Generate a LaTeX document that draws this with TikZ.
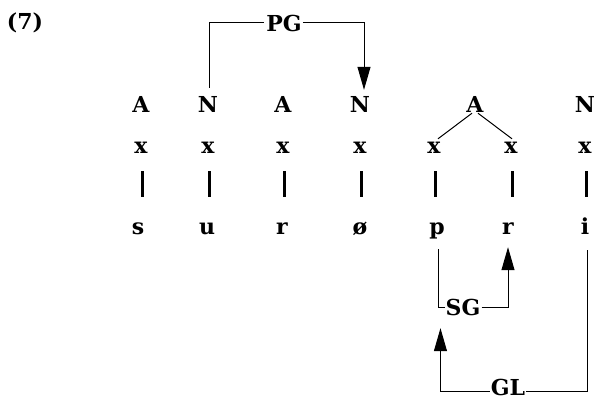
\documentclass[tikz,border=0pt]{standalone}
\usepackage{fontspec}
\setmainfont{DejaVu Serif}
\usetikzlibrary{arrows.meta}
\begin{document}
\begin{tikzpicture}[x=1pt,y=-1pt,
  every node/.style={inner sep=0pt,anchor=base,font=\fontsize{22}{26}\selectfont\bfseries},
  capnode/.style={text height=16pt,text depth=0pt},
  lownode/.style={text height=11pt,text depth=0pt},
  thinline/.style={line width=1pt},
  barline/.style={line width=2.4pt},
  bigarrow/.style={thinline,-{Triangle[length=23pt,width=13pt]}}]
\useasboundingbox (0,0) rectangle (595,399);
% example number
\node[capnode] (num) at (25,29) {(7)};
% top tier: category labels
\node[capnode] (A1) at (141,112) {A};
\node[capnode] (N2) at (208,112) {N};
\node[capnode] (A3) at (283,112) {A};
\node[capnode] (N4) at (360,112) {N};
\node[capnode] (A5) at (475,112) {A};
\node[capnode] (N7) at (585,112) {N};
% skeletal slots
\node[lownode] (x1) at (141,153) {x};
\node[lownode] (x2) at (208,153) {x};
\node[lownode] (x3) at (283,153) {x};
\node[lownode] (x4) at (360,153) {x};
\node[lownode] (x5) at (434,153) {x};
\node[lownode] (x6) at (511,153) {x};
\node[lownode] (x7) at (585,153) {x};
% segments
\node[lownode] (s1) at (138,234) {s};
\node[lownode] (s2) at (207,234) {u};
\node[lownode] (s3) at (282,234) {r};
\node[lownode] (s4) at (360,234) {ø};
\node[lownode] (s5) at (437,234) {p};
\node[lownode] (s6) at (508,234) {r};
\node[lownode] (s7) at (585,234) {i};
% association lines slot -- segment
\foreach \i in {1,...,7}
  \draw[barline] ([xshift=1.5pt,yshift=-18pt]x\i.south) -- ([xshift=1.5pt,yshift=26pt]x\i.south |- s\i.north);
% branching A
\draw[thinline] ([xshift=-3pt,yshift=-1pt]A5.south) -- ([xshift=4pt,yshift=3pt]x5.north);
\draw[thinline] ([xshift=3pt,yshift=-1pt]A5.south) -- ([xshift=1pt,yshift=3pt]x6.north);
% rule labels
\node[capnode] (PG) at (284,31) {PG};
\node[capnode] (SG) at (463,315) {SG};
\node[capnode] (GL) at (508,395) {GL};
% PG: from the second N to the fourth N
\draw[thinline] ([xshift=1pt,yshift=8pt]N2.north) |- ([xshift=-2pt,yshift=1pt]PG.west);
\draw[bigarrow] ([xshift=1pt,yshift=1pt]PG.east) -| ([xshift=4pt,yshift=6pt]N4.north);
% SG: from p to r
\draw[thinline] ([xshift=1pt,yshift=-15pt]s5.south) |- (SG.west);
\draw[bigarrow] ([xshift=1pt]SG.east) -| ([yshift=-13pt]s6.south);
% GL: from i back under SG
\draw[bigarrow] ([xshift=-1pt,yshift=-4pt]GL.west) -| ([xshift=-5pt,yshift=-13pt]SG.south west);
\draw[thinline] ([xshift=1pt,yshift=-4pt]GL.east) -| ([xshift=2pt,yshift=-16pt]s7.south);
\end{tikzpicture}
\end{document}
